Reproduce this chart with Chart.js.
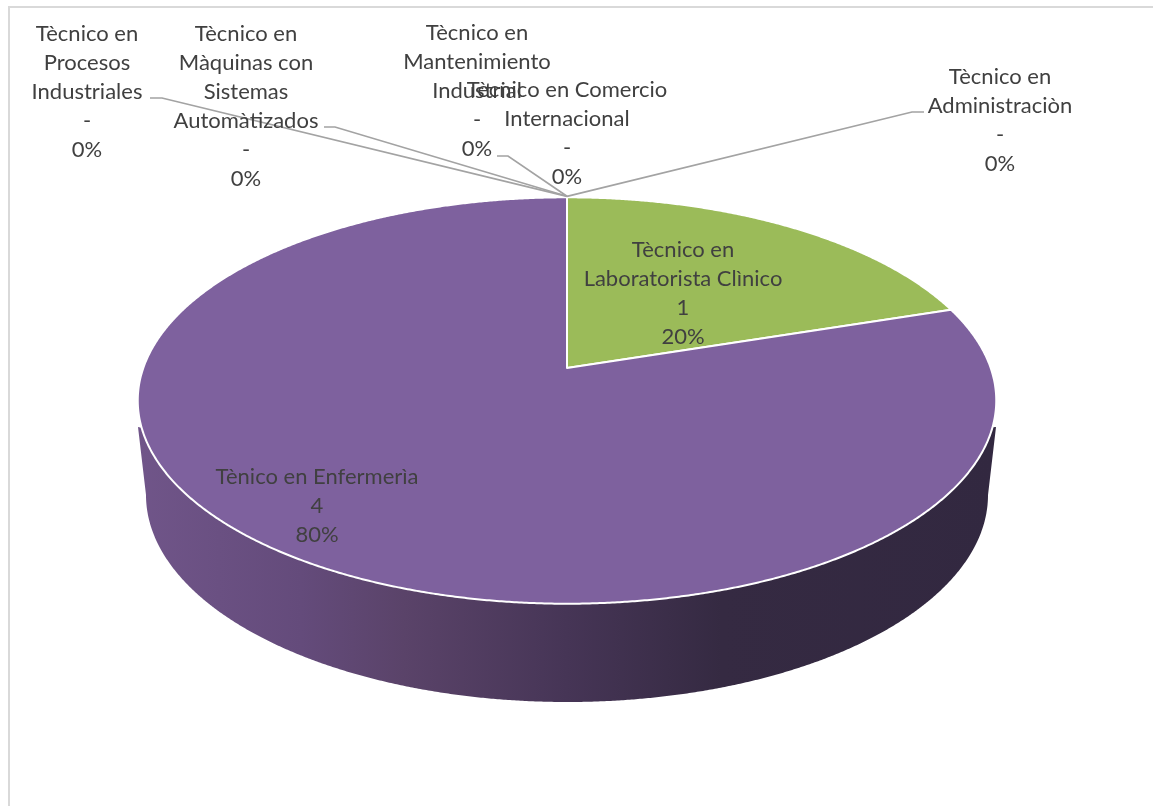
<!DOCTYPE html>
<html>
<head>
<meta charset="utf-8">
<title>Carreras técnicas</title>
<script src="https://cdn.jsdelivr.net/npm/chart.js@4/dist/chart.umd.min.js"></script>
<style>
  html, body { margin: 0; padding: 0; background: #fff; overflow: hidden; }
  canvas { display: block; }
</style>
</head>
<body>
<canvas id="myChart" width="1153" height="806"></canvas>
<script>
// slices run clockwise from 12 o'clock
var categories = [
  ["Tècnico en", "Administraciòn"],
  ["Tècnico en", "Laboratorista Clìnico"],
  ["Tènico en Enfermerìa"],
  ["Tècnico en", "Procesos", "Industriales"],
  ["Tècnico en", "Màquinas con", "Sistemas", "Automàtizados"],
  ["Tècnico en", "Mantenimiento", "Industrial"],
  ["Tècnico en Comercio", "Internacional"]
];
var values = [0, 1, 4, 0, 0, 0, 0];
var colors = ["#4f81bd", "#9bbb59", "#7e619e", "#4bacc6", "#f79646", "#2c4d75", "#772c2a"];

// centre x and first baseline of each label block
var labelX = [1000, 683, 317, 87, 246, 477, 567];
var labelY = [84, 257, 484, 41, 41, 40, 97];

// leader lines, from the label end to the knee; all of them meet at the pie centre
var leaders = [
  [[924, 112], [912, 112]],
  null,
  null,
  [[150, 98], [162, 98]],
  [[324, 127], [335, 127]],
  [[497, 156], [508, 156]],
  null
];

var LINE_HEIGHT = 29;

// tilted disc: x stretch and perspective strength
var STRETCH_X = 2.14;
var PERSPECTIVE = -0.16;

// lower rim of the disc, a plain ellipse
var BASE = { x: 567, y: 495, rx: 421, ry: 207 };
var SIDE_TOP = 427;

var total = 0;
for (var i = 0; i < values.length; i++) {
  total += values[i];
}

function rimPoint(arc, angle) {
  var u = Math.cos(angle);
  var v = Math.sin(angle);
  var w = 1 + PERSPECTIVE * v;
  return {
    x: arc.x + STRETCH_X * arc.outerRadius * u / w,
    y: arc.y + arc.outerRadius * v / w
  };
}

function drawSide(ctx, arc) {
  var from = Math.max(arc.startAngle, 0);
  var to = Math.min(arc.endAngle, Math.PI);
  if (to <= from) return;
  var grad = ctx.createLinearGradient(138, 0, 996, 0);
  grad.addColorStop(0, "#705589");
  grad.addColorStop(0.19, "#644b7b");
  grad.addColorStop(0.31, "#5a4369");
  grad.addColorStop(0.50, "#463556");
  grad.addColorStop(0.68, "#352a42");
  grad.addColorStop(1, "#322840");
  ctx.beginPath();
  var started = false;
  for (var a = from; a <= to; a += 0.005) {
    var p = rimPoint(arc, a);
    if (p.y < SIDE_TOP) continue;
    if (!started) {
      ctx.moveTo(p.x, p.y);
      started = true;
    } else {
      ctx.lineTo(p.x, p.y);
    }
  }
  ctx.lineTo(138, SIDE_TOP);
  for (var b = Math.PI; b >= 0; b -= 0.005) {
    var bx = BASE.x + BASE.rx * Math.cos(b);
    var by = BASE.y + BASE.ry * Math.sin(b);
    ctx.lineTo(bx, by);
  }
  ctx.lineTo(996, SIDE_TOP);
  ctx.closePath();
  ctx.fillStyle = grad;
  ctx.fill();
}

function drawTop(ctx, arc, color) {
  ctx.beginPath();
  ctx.moveTo(arc.x, arc.y);
  for (var a = arc.startAngle; a < arc.endAngle; a += 0.005) {
    var p = rimPoint(arc, a);
    ctx.lineTo(p.x, p.y);
  }
  var end = rimPoint(arc, arc.endAngle);
  ctx.lineTo(end.x, end.y);
  ctx.closePath();
  ctx.fillStyle = color;
  ctx.fill();
  ctx.lineWidth = 2;
  ctx.lineJoin = "round";
  ctx.strokeStyle = "#ffffff";
  ctx.stroke();
}

var framePlugin = {
  id: "frame",
  beforeDraw: function (chart) {
    var ctx = chart.ctx;
    ctx.save();
    ctx.fillStyle = "#ffffff";
    ctx.fillRect(0, 0, chart.width, chart.height);
    ctx.strokeStyle = "#d9d9d9";
    ctx.lineWidth = 2;
    ctx.beginPath();
    ctx.moveTo(9, chart.height);
    ctx.lineTo(9, 7);
    ctx.lineTo(chart.width, 7);
    ctx.stroke();
    ctx.restore();
  }
};

// the arcs keep their angles from the doughnut controller, only the painting is replaced
var tiltedPie = {
  id: "tiltedPie",
  beforeDatasetDraw: function (chart, args) {
    var ctx = chart.ctx;
    var arcs = chart.getDatasetMeta(args.index).data;
    ctx.save();
    for (var i = 0; i < arcs.length; i++) {
      if (arcs[i].circumference > 0) drawSide(ctx, arcs[i]);
    }
    for (var j = 0; j < arcs.length; j++) {
      if (arcs[j].circumference > 0) drawTop(ctx, arcs[j], colors[j]);
    }
    ctx.restore();
    return false;
  }
};

var labelPlugin = {
  id: "sliceLabels",
  afterDatasetsDraw: function (chart) {
    var ctx = chart.ctx;
    var centre = chart.getDatasetMeta(0).data[0];
    ctx.save();
    ctx.strokeStyle = "#a3a3a3";
    ctx.lineWidth = 1.7;
    for (var i = 0; i < leaders.length; i++) {
      if (!leaders[i]) continue;
      var apex = rimPoint(centre, -Math.PI / 2);
      ctx.beginPath();
      ctx.moveTo(leaders[i][0][0], leaders[i][0][1]);
      ctx.lineTo(leaders[i][1][0], leaders[i][1][1]);
      ctx.lineTo(apex.x, apex.y - 1);
      ctx.stroke();
    }
    ctx.font = "22px Lato";
    ctx.fillStyle = "#404040";
    ctx.textAlign = "center";
    ctx.textBaseline = "alphabetic";
    for (var j = 0; j < categories.length; j++) {
      var lines = categories[j].slice();
      lines.push(values[j] === 0 ? "-" : String(values[j]));
      lines.push(Math.round(values[j] / total * 100) + "%");
      for (var k = 0; k < lines.length; k++) {
        ctx.fillText(lines[k], labelX[j], labelY[j] + k * LINE_HEIGHT);
      }
    }
    ctx.restore();
  }
};

var ctx = document.getElementById("myChart").getContext("2d");
var myChart = new Chart(ctx, {
  type: "pie",
  data: {
    labels: categories.map(function (c) { return c.join(" "); }),
    datasets: [{
      data: values,
      backgroundColor: colors,
      borderWidth: 0
    }]
  },
  options: {
    responsive: false,
    animation: false,
    events: [],
    layout: { padding: { left: 369, right: 388, top: 170, bottom: 240 } },
    plugins: {
      legend: { display: false },
      tooltip: { enabled: false }
    }
  },
  plugins: [framePlugin, tiltedPie, labelPlugin]
});
</script>
</body>
</html>
